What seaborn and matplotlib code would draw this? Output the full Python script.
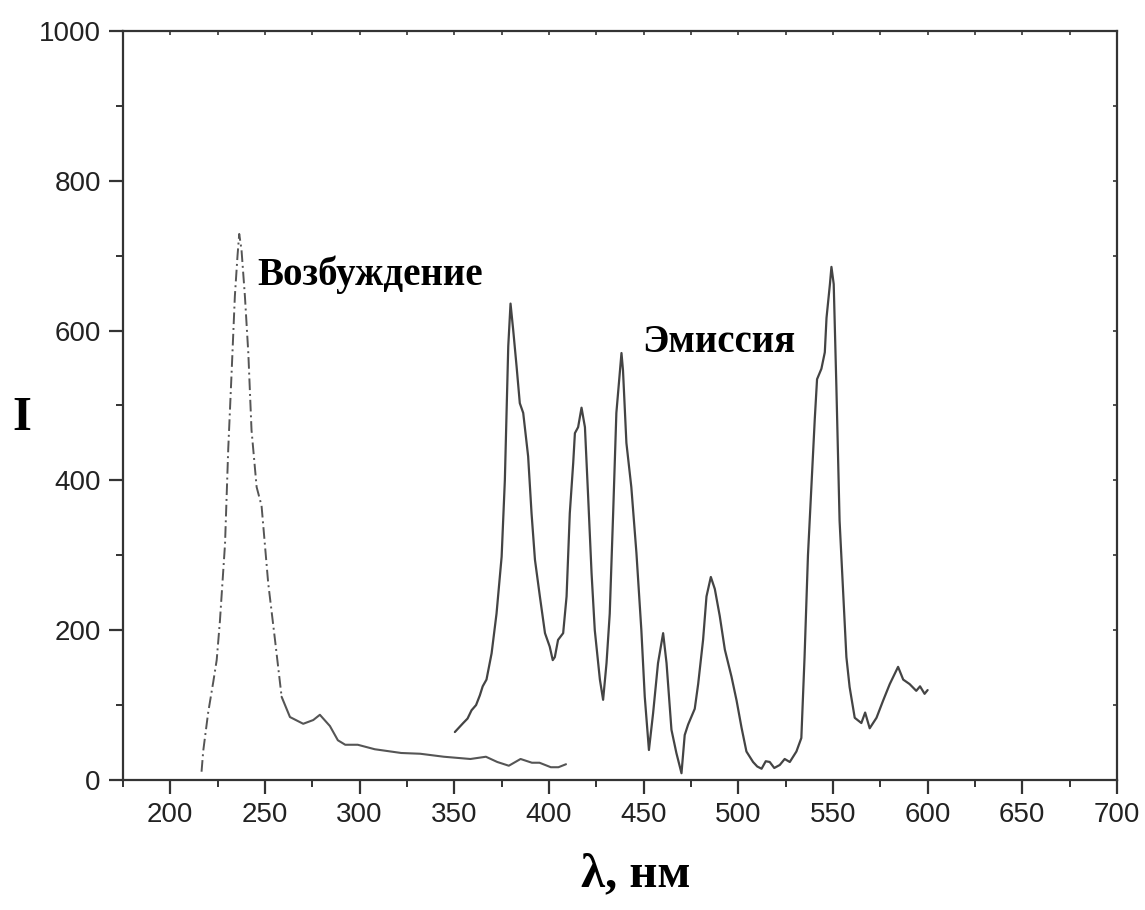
import matplotlib
matplotlib.use("Agg")
import matplotlib.pyplot as plt
import seaborn as sns
import pandas as pd
from matplotlib.ticker import MultipleLocator

# Excitation spectrum (peak part, dash-dot) and tail (solid)
exc_peak_wl = [216.5, 217.4, 220.0, 222.7, 224.5, 226.2, 228.9, 230.6, 232.4, 234.1,
               235.5, 236.4, 237.6, 239.4, 241.2, 242.9, 245.6, 248.2, 251.7, 255.3, 258.8]
exc_peak_I = [11, 39, 90, 131, 160, 212, 315, 442, 545, 646,
              700, 729, 708, 646, 570, 467, 391, 366, 263, 187, 111]
exc_tail_wl = [258.8, 263.2, 270.2, 275.5, 279.0, 284.3, 288.5, 292.4, 299.0, 308.0,
               322.0, 332.0, 344.5, 358.5, 366.7, 372.7, 378.8, 385.0, 391.0, 395.0,
               401.0, 405.0, 409.0]
exc_tail_I = [111, 84, 75, 80, 87, 72, 53, 47, 47, 41,
              36, 35, 31, 28, 31, 24, 19, 28, 23, 23,
              17, 17, 21]

# Emission spectrum
em_wl = [350.3, 352.5, 354.7, 357.0, 359.1, 361.5, 363.5, 365.0, 367.0, 369.7, 372.3, 375.0,
         376.7, 377.6, 378.5, 379.7, 381.1, 382.9, 384.6, 386.4, 389.0, 390.8,
         392.6, 395.2, 397.9, 400.4, 402.0, 403.1, 404.8, 407.5, 409.3, 411.0,
         412.8, 413.7, 415.4, 417.2, 419.0, 420.7, 422.5, 424.2, 426.9, 428.6,
         430.4, 432.1, 433.9, 435.6, 438.3, 439.1, 440.9, 443.5, 446.2, 448.8,
         450.6, 452.8, 455.0, 457.6, 460.3, 462.1, 464.7, 467.3, 470.0, 471.7,
         473.5, 477.0, 478.8, 481.4, 483.2, 485.5, 487.6, 490.2, 492.9, 496.4,
         499.1, 501.7, 504.3, 507.8, 510.0, 512.3, 514.5, 516.6, 519.0, 521.9,
         524.5, 527.2, 530.7, 533.3, 535.0, 536.8, 538.6, 540.4, 541.6, 543.9,
         545.7, 546.6, 548.4, 549.2, 550.4, 551.8, 553.5, 555.3, 557.1, 558.8,
         561.5, 565.0, 567.0, 569.4, 573.0, 576.5, 580.0, 584.4, 587.1, 590.5,
         594.0, 596.0, 598.4, 600.0]
em_I = [64, 70, 76, 82, 93, 100, 113, 125, 134, 169, 222, 298,
        400, 490, 579, 636, 601, 552, 503, 490, 432, 356,
        294, 245, 196, 178, 160, 164, 187, 196, 245, 356,
        423, 463, 471, 497, 471, 378, 276, 200, 134, 107,
        156, 222, 356, 490, 570, 547, 450, 391, 303, 200,
        111, 40, 89, 156, 196, 156, 67, 36, 9, 60,
        74, 95, 128, 187, 245, 271, 255, 219, 174, 138,
        106, 70, 38, 24, 18, 15, 25, 24, 16, 20,
        28, 24, 38, 56, 164, 300, 391, 482, 535, 549,
        571, 617, 662, 685, 662, 526, 346, 255, 164, 124,
        83, 76, 90, 69, 83, 106, 128, 151, 134, 128,
        119, 125, 115, 120]

x_ticks = [200, 250, 300, 350, 400, 450, 500, 550, 600, 650, 700]
y_ticks = [0, 200, 400, 600, 800, 1000]

sns.set_theme(style="ticks")
plt.rcParams["font.family"] = ["Liberation Sans", "DejaVu Sans"]

fig = plt.figure(figsize=(11.45, 9.1), dpi=100)
ax = fig.add_axes([0.1074, 0.1429, 0.8681, 0.8231])

df_pk = pd.DataFrame({"wl": exc_peak_wl, "I": exc_peak_I})
df_tl = pd.DataFrame({"wl": exc_tail_wl, "I": exc_tail_I})
df_em = pd.DataFrame({"wl": em_wl, "I": em_I})

sns.lineplot(data=df_pk, x="wl", y="I", ax=ax, sort=False, estimator=None,
             color="#555555", linewidth=1.4, linestyle=(0, (6, 2, 1, 2)))
sns.lineplot(data=df_tl, x="wl", y="I", ax=ax, sort=False, estimator=None,
             color="#555555", linewidth=1.5)
sns.lineplot(data=df_em, x="wl", y="I", ax=ax, sort=False, estimator=None,
             color="#444444", linewidth=1.6)

ax.set_xlim(175, 700)
ax.set_ylim(0, 1000)
ax.set_xticks(x_ticks)
ax.set_yticks(y_ticks)
ax.xaxis.set_minor_locator(MultipleLocator(25))
ax.yaxis.set_minor_locator(MultipleLocator(100))

for s in ax.spines.values():
    s.set_visible(True)
    s.set_color("#333333")
    s.set_linewidth(1.6)

ax.tick_params(axis="both", which="major", direction="out", length=10, width=1.6,
               color="#333333", labelsize=20, labelcolor="#222222", pad=6)
ax.tick_params(axis="both", which="minor", direction="out", length=5, width=1.4,
               color="#333333")
ax.tick_params(axis="both", which="both", top=False, right=False)
ax.set_xlabel("")
ax.set_ylabel("")

# tiny inward ticks on top and right spines
sec_x = ax.secondary_xaxis("top")
sec_x.set_xticks(x_ticks)
sec_x.xaxis.set_minor_locator(MultipleLocator(25))
sec_x.tick_params(axis="x", which="both", direction="in", length=3, width=1.2,
                  color="#333333", labeltop=False)
sec_x.spines["top"].set_visible(False)
sec_y = ax.secondary_yaxis("right")
sec_y.set_yticks(y_ticks)
sec_y.yaxis.set_minor_locator(MultipleLocator(100))
sec_y.tick_params(axis="y", which="both", direction="in", length=3, width=1.2,
                  color="#333333", labelright=False)
sec_y.spines["right"].set_visible(False)

serif = ["Liberation Serif", "DejaVu Serif"]
fig.text(0.555, 0.026, "λ, нм", fontsize=35, fontweight="bold", family=serif,
         ha="center", va="baseline", color="black")
fig.text(0.0105, 0.528, "I", fontsize=35, fontweight="bold", family=serif,
         ha="left", va="baseline", color="black")

ax.text(245.7, 661, "Возбуждение", fontsize=28, fontweight="bold", family=serif,
        ha="left", va="baseline", color="black")
ax.text(449.5, 571, "Эмиссия", fontsize=28, fontweight="bold", family=serif,
        ha="left", va="baseline", color="black")

fig.savefig("out.png", dpi=100, facecolor="white")
